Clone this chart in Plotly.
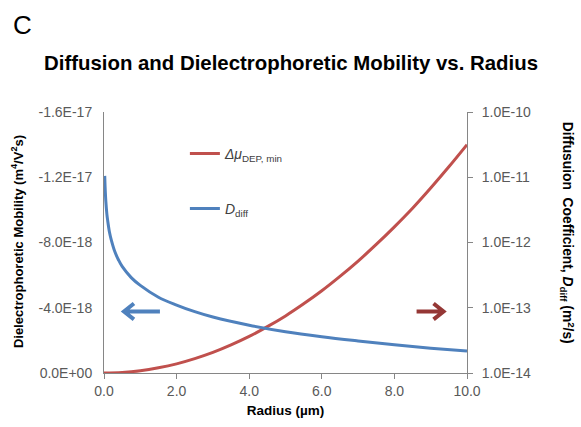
import plotly.graph_objects as go

# Radius (µm) sample points
radius_dep = [0.0, 0.5, 1.0, 1.5, 2.0, 2.5, 3.0, 3.5, 4.0, 4.5, 5.0, 5.5,
              6.0, 6.5, 7.0, 7.5, 8.0, 8.5, 9.0, 9.5, 10.0]
# Δμ_DEP,min (m^4/V^2 s)
mu_dep = [0.0, -3.5e-20, -1.4e-19, -3.2e-19, -5.6e-19, -8.8e-19, -1.26e-18,
          -1.72e-18, -2.24e-18, -2.84e-18, -3.5e-18, -4.24e-18, -5.04e-18,
          -5.92e-18, -6.86e-18, -7.88e-18, -8.96e-18, -1.01e-17, -1.134e-17,
          -1.264e-17, -1.40e-17]

radius_diff = [0.02, 0.03, 0.05, 0.08, 0.1, 0.15, 0.2, 0.3, 0.4, 0.5, 0.75,
               1.0, 1.5, 2.0, 2.5, 3.0, 4.0, 5.0, 6.0, 7.0, 8.0, 9.0, 10.0]
# D_diff (m^2/s), read from the right (log) axis
d_diff = [1.05e-11, 7.2e-12, 4.3e-12, 2.7e-12, 2.2e-12, 1.45e-12, 1.1e-12,
          7.2e-13, 5.4e-13, 4.3e-13, 2.9e-13, 2.2e-13, 1.45e-13, 1.1e-13,
          8.7e-14, 7.2e-14, 5.4e-14, 4.3e-14, 3.6e-14, 3.1e-14, 2.7e-14,
          2.4e-14, 2.17e-14]

x_ticks = [0, 2, 4, 6, 8, 10]
x_ticktext = ["0.0", "2.0", "4.0", "6.0", "8.0", "10.0"]
y_ticks = [0, -4e-18, -8e-18, -1.2e-17, -1.6e-17]
y_ticktext = ["0.0E+00", "-4.0E-18", "-8.0E-18", "-1.2E-17", "-1.6E-17"]
y2_ticks = [1e-14, 1e-13, 1e-12, 1e-11, 1e-10]
y2_ticktext = ["1.0E-14", "1.0E-13", "1.0E-12", "1.0E-11", "1.0E-10"]

RED = "#C0504D"
BLUE = "#4F81BD"
DARKRED = "#953735"
FONT = "Liberation Sans, Arial, sans-serif"
AXIS = "#868686"
TICK = "#595959"

fig = go.Figure()
fig.add_trace(go.Scatter(
    x=radius_dep, y=mu_dep, mode="lines", name="<i>Δμ</i><sub>DEP, min</sub>",
    line=dict(color=RED, width=3, shape="spline"), legendgroup="a", yaxis="y"))
fig.add_trace(go.Scatter(
    x=radius_diff, y=d_diff, mode="lines", name="<i>D</i><sub>diff</sub>",
    line=dict(color=BLUE, width=3, shape="spline"), legendgroup="b", yaxis="y2"))

W, H = 581, 427
L, R, T, B = 104, 113.5, 112, 52
pw, ph = W - L - R, H - T - B

def px(x):
    return (x - L) / pw

def py(y):
    return (H - B - y) / ph

shapes = []
# blue arrow pointing left
shapes.append(dict(type="path", xref="paper", yref="paper",
                   path=f"M {px(160)} {py(313)} L {px(124)} {py(313)} M {px(134)} {py(305)} L {px(124)} {py(313)} L {px(134)} {py(321)}",
                   line=dict(color=BLUE, width=4)))
# red arrow pointing right
shapes.append(dict(type="path", xref="paper", yref="paper",
                   path=f"M {px(417)} {py(313)} L {px(444)} {py(313)} M {px(434)} {py(305)} L {px(444)} {py(313)} L {px(434)} {py(321)}",
                   line=dict(color=DARKRED, width=4)))

annotations = [
    dict(text="C", xref="paper", yref="paper", x=px(11), y=py(24),
         xanchor="left", yanchor="middle", showarrow=False,
         font=dict(family=FONT, size=26, color="#000000")),
    dict(text="Dielectrophoretic Mobility (m<sup>4</sup>/V<sup>2</sup>s)",
         xref="paper", yref="paper", x=px(17), y=py(243), textangle=-90,
         xanchor="center", yanchor="middle", showarrow=False,
         font=dict(family=FONT, size=13, color="#000000", weight="bold")),
    dict(text="Diffusuion  Coefficient, <i>D</i><sub>diff</sub> (m<sup>2</sup>/s)",
         xref="paper", yref="paper", x=px(568), y=py(234), textangle=90,
         xanchor="center", yanchor="middle", showarrow=False,
         font=dict(family=FONT, size=13.8, color="#000000", weight="bold")),
]

fig.update_layout(
    width=W, height=H,
    margin=dict(l=L, r=R, t=T, b=B),
    paper_bgcolor="white", plot_bgcolor="white",
    font=dict(family=FONT, size=14, color=TICK),
    title=dict(text="Diffusion and Dielectrophoretic Mobility vs. Radius",
               x=291 / W, xanchor="center", xref="container",
               y=1 - 63 / H, yanchor="middle", yref="container",
               font=dict(family=FONT, size=20.4, color="#000000", weight="bold")),
    xaxis=dict(range=[0, 10], tickvals=x_ticks, ticktext=x_ticktext,
               showline=True, linecolor=AXIS, linewidth=1, ticks="outside",
               tickcolor=AXIS, ticklen=5, showgrid=False, zeroline=False,
               tickfont=dict(size=14, color=TICK),
               title=dict(text="Radius (µm)", standoff=7,
                          font=dict(size=13.5, color="#000000", weight="bold"))),
    yaxis=dict(range=[0, -1.6e-17], tickvals=y_ticks, ticktext=y_ticktext,
               showline=True, linecolor=AXIS, linewidth=1, ticks="",
               showgrid=False, zeroline=False, ticklabelstandoff=8,
               tickfont=dict(size=14, color=TICK)),
    yaxis2=dict(type="log", range=[-14, -10], tickvals=y2_ticks,
                ticktext=y2_ticktext, overlaying="y", side="right",
                showline=True, linecolor=AXIS, linewidth=1, ticks="outside",
                tickcolor=AXIS, ticklen=5, showgrid=False, zeroline=False,
                ticklabelstandoff=6, tickfont=dict(size=14, color=TICK)),
    legend=dict(x=px(185), y=py(138), xanchor="left", yanchor="top",
                bgcolor="rgba(0,0,0,0)", tracegroupgap=34,
                font=dict(family=FONT, size=14, color="#404040")),
    shapes=shapes,
    annotations=annotations,
)

fig.write_html("out.html")
